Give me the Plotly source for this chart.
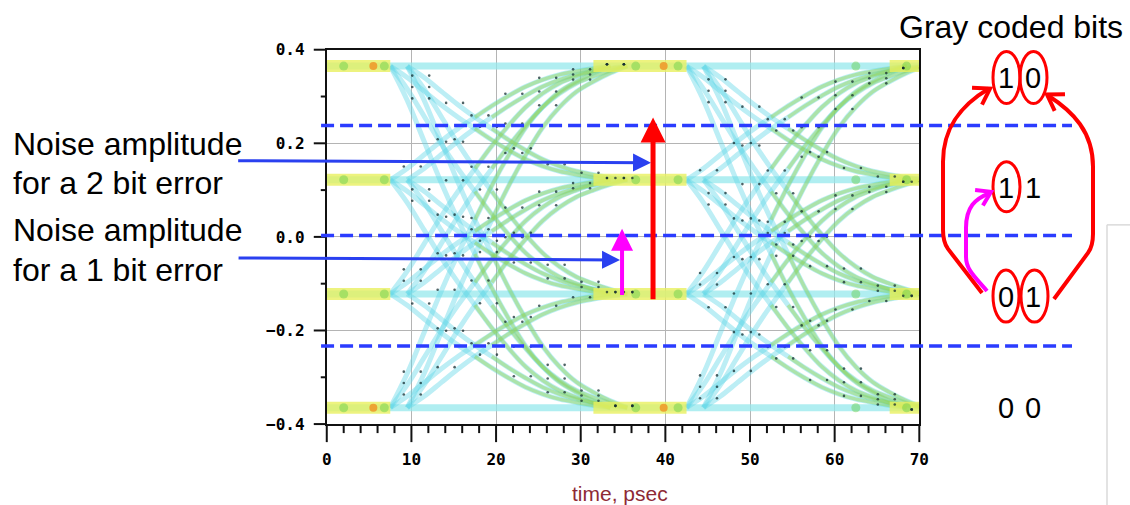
import math
import plotly.graph_objects as go

# Measured from earlier renders: window pixel = 0.987*page_x - 3, 0.961*page_y,
# and the page has the browser's 8px body margin. Positions below are given in
# target-picture pixels and converted back through that mapping.
SX, SY, BX, BY = 0.987, 0.961, -3.0, 0.0
MARGIN = 8
FW, FH = 1145, 520

# ---------------- data ----------------
levels = [0.365, 0.122, -0.122, -0.365]          # PAM4 signal levels (V)
ui_psec = 35.0                                    # unit interval
edge_start = [7.5, 9.5]                           # transition start times in first UI (psec)
resp_dt = [0, 2, 4, 6, 8, 10, 12, 14, 16, 18, 20, 22, 24, 26]            # psec after edge
resp_frac = [0, 0.10, 0.22, 0.34, 0.45, 0.55, 0.65, 0.74, 0.82, 0.88, 0.925, 0.955, 0.98, 1.0]
x_range = [0, 70]
y_range = [-0.4, 0.4]
hot_t = [5.5, 39.8]                               # orange hot spots on outer levels
green_t = [2.0, 6.8, 36.5, 41.5, 62.5, 68.5]      # denser green spots on levels
thresholds = [0.238, 0.003, -0.233]               # decision thresholds (dashed)
gray_codes = ["10", "11", "01", "00"]

# ---------------- helpers (target pixel -> paper) ----------------
def fig_x(x):
    return (x - BX) / SX - MARGIN

def fig_y(y):
    return (y - BY) / SY - MARGIN

def px(x):
    return fig_x(x) / FW

def py(y):
    return 1 - fig_y(y) / FH

X0, X1 = 326.7, 919.3
Y_TOP, Y_BOT = 48.3, 421.7

def xdata_to_px(v):
    return X0 + (v - x_range[0]) / (x_range[1] - x_range[0]) * (X1 - X0)

def ydata_to_px(v):
    return Y_BOT - (v - y_range[0]) / (y_range[1] - y_range[0]) * (Y_BOT - Y_TOP)

fig = go.Figure()

# flat "stay" traces at each level
fx, fy = [], []
for lv in levels:
    fx += [x_range[0], x_range[1], None]
    fy += [lv, lv, None]
fig.add_trace(go.Scatter(x=fx, y=fy, mode="lines",
                         line=dict(color="rgba(150,232,236,0.75)", width=7),
                         hoverinfo="skip", showlegend=False))

# transitions
tx, ty, lx, ly, sx, sy = [], [], [], [], [], []
for k in range(2):
    for t0 in edge_start:
        for a in levels:
            for b in levels:
                if a == b:
                    continue
                xs = [t0 + k * ui_psec + d for d in resp_dt]
                ys = [a + (b - a) * f for f in resp_frac]
                tx += xs + [None]
                ty += ys + [None]
                late = [i for i, d in enumerate(resp_dt) if d >= 10]
                lx += [xs[i] for i in late] + [None]
                ly += [ys[i] for i in late] + [None]
                for i in range(1, len(xs), 2):
                    sx.append(xs[i] + (0.6 if (a > b) else -0.4))
                    sy.append(ys[i] + (0.004 if k == 0 else -0.004))

fig.add_trace(go.Scatter(x=tx, y=ty, mode="lines", line_shape="spline",
                         line=dict(color="rgba(95,215,230,0.42)", width=5),
                         hoverinfo="skip", showlegend=False))
fig.add_trace(go.Scatter(x=lx, y=ly, mode="lines", line_shape="spline",
                         line=dict(color="rgba(150,212,80,0.45)", width=3.5),
                         hoverinfo="skip", showlegend=False))

# settled windows (dense yellow)
settle_dt = resp_dt[resp_frac.index(0.955)]
windows = [(x_range[0], min(edge_start)),
           (max(edge_start) + settle_dt, min(edge_start) + ui_psec),
           (max(edge_start) + settle_dt + ui_psec, x_range[1])]
wx, wy = [], []
for lv in levels:
    for (w0, w1) in windows:
        wx += [w0, w1, None]
        wy += [lv, lv, None]
fig.add_trace(go.Scatter(x=wx, y=wy, mode="lines",
                         line=dict(color="rgba(232,240,95,0.8)", width=12),
                         hoverinfo="skip", showlegend=False))

gx = [t for lv in levels for t in green_t]
gy = [lv for lv in levels for t in green_t]
fig.add_trace(go.Scatter(x=gx, y=gy, mode="markers",
                         marker=dict(color="rgba(100,205,70,0.45)", size=9, symbol="circle"),
                         hoverinfo="skip", showlegend=False))
hx = [t for lv in (levels[0], levels[-1]) for t in hot_t]
hy = [lv for lv in (levels[0], levels[-1]) for t in hot_t]
fig.add_trace(go.Scatter(x=hx, y=hy, mode="markers",
                         marker=dict(color="rgba(240,150,40,0.85)", size=8),
                         hoverinfo="skip", showlegend=False))

# speckles
fig.add_trace(go.Scatter(x=sx, y=sy, mode="markers",
                         marker=dict(color="rgba(20,45,50,0.75)", size=2.6),
                         hoverinfo="skip", showlegend=False))

shapes = []
annotations = []

# axis tick marks (outside), major + minor
TICK_C = "#111"
for i in range(0, 36):
    xv = x_range[0] + 2 * i
    major = (i % 5 == 0)
    xp = xdata_to_px(xv)
    shapes.append(dict(type="line", xref="paper", yref="paper", x0=px(xp), x1=px(xp),
                       y0=py(Y_BOT), y1=py(Y_BOT + (18 if major else 9)),
                       line=dict(color=TICK_C, width=2)))
for i in range(0, 9):
    yv = y_range[0] + 0.1 * i
    major = (i % 2 == 0)
    yp = ydata_to_px(yv)
    shapes.append(dict(type="line", xref="paper", yref="paper", y0=py(yp), y1=py(yp),
                       x0=px(X0), x1=px(X0 - (13 if major else 6)),
                       line=dict(color=TICK_C, width=2)))

# dashed decision thresholds
for th in thresholds:
    shapes.append(dict(type="line", xref="paper", yref="y",
                       x0=px(321), x1=px(1072), y0=th, y1=th,
                       line=dict(color="#2b3cff", width=3.5, dash="13px,6px"), layer="above"))

# faint box on the right
shapes.append(dict(type="line", xref="paper", yref="paper", x0=px(1107), x1=px(1107),
                   y0=py(223), y1=py(505), line=dict(color="#dadada", width=1.5)))
shapes.append(dict(type="line", xref="paper", yref="paper", x0=px(1107), x1=px(1130),
                   y0=py(223), y1=py(223), line=dict(color="#dadada", width=1.5)))

# left texts
for txt, yc in [("Noise amplitude", 142), ("for a 2 bit error", 181),
                ("Noise amplitude", 228), ("for a 1 bit error", 268)]:
    annotations.append(dict(text=txt, xref="paper", yref="paper", x=px(11), y=py(yc),
                            xanchor="left", yanchor="middle", showarrow=False,
                            font=dict(family="Liberation Sans, Arial", size=32, color="black")))

def arrow(head, tail, width, size, color):
    return dict(text="", xref="paper", yref="paper", x=px(head[0]), y=py(head[1]),
                ax=fig_x(tail[0]) - fig_x(head[0]), ay=fig_y(tail[1]) - fig_y(head[1]),
                showarrow=True, arrowhead=2, arrowsize=size, arrowwidth=width,
                arrowcolor=color)

# blue arrows
annotations.append(arrow((651, 161), (242, 159), 3, 1.2, "#2a40f0"))
annotations.append(arrow((620, 258), (242, 256), 3, 1.2, "#2a40f0"))
# red and magenta vertical arrows
annotations.append(arrow((653, 116), (653, 292), 5, 1.0, "#ff0000"))
annotations.append(arrow((622, 227), (622, 292), 4, 1.1, "#ff00ff"))

# Gray coded bits title
annotations.append(dict(text="Gray coded bits", xref="paper", yref="paper", x=px(1011), y=py(26),
                        xanchor="center", yanchor="middle", showarrow=False,
                        font=dict(family="Liberation Sans, Arial", size=32, color="black")))

# bit labels
code_y = [76, 185, 294, 405]
for code, yc in zip(gray_codes, code_y):
    for j, ch in enumerate(code):
        annotations.append(dict(text=ch, xref="paper", yref="paper", x=px(1006 + 27 * j), y=py(yc + 1),
                                xanchor="center", yanchor="middle", showarrow=False,
                                font=dict(family="Liberation Sans, Arial", size=29, color="black")))

# ellipses around flipped bits
for (x0, x1, y0, y1) in [(993, 1020, 50, 102), (1020, 1047, 50, 102),
                         (993, 1020, 160, 210),
                         (993, 1019, 268, 320), (1021, 1048, 268, 320)]:
    shapes.append(dict(type="circle", xref="paper", yref="paper",
                       x0=px(x0), x1=px(x1), y0=py(y1), y1=py(y0),
                       line=dict(color="#ff0000", width=3)))

def path(cmds):
    out = []
    for c, pts in cmds:
        out.append(c + " " + " ".join(f"{px(a):.5f},{py(b):.5f}" for a, b in pts))
    return " ".join(out)

def chevron(tip, back, length=18, ang=33):
    dx, dy = back[0] - tip[0], back[1] - tip[1]
    n = math.hypot(dx, dy)
    dx, dy = dx / n, dy / n
    pts = []
    for s in (-1, 1):
        r = math.radians(ang * s)
        wx_ = dx * math.cos(r) - dy * math.sin(r)
        wy_ = dx * math.sin(r) + dy * math.cos(r)
        pts.append((tip[0] + wx_ * length, tip[1] + wy_ * length))
    return path([("M", [pts[0]]), ("L", [tip]), ("L", [pts[1]])])

# left red curve
shapes.append(dict(type="path", xref="paper", yref="paper", layer="above",
                   path=path([("M", [(982, 291)]), ("L", [(948, 247)]),
                              ("Q", [(943, 240), (943, 228)]), ("L", [(943, 160)]),
                              ("C", [(943, 125), (962, 103), (989, 87)])]),
                   line=dict(color="#ff0000", width=4)))
shapes.append(dict(type="path", xref="paper", yref="paper", layer="above",
                   path=chevron((990, 87), (968, 100)), line=dict(color="#ff0000", width=4)))
# right red curve
shapes.append(dict(type="path", xref="paper", yref="paper", layer="above",
                   path=path([("M", [(1054, 297)]), ("L", [(1088, 251)]),
                              ("Q", [(1093, 244), (1093, 232)]), ("L", [(1093, 165)]),
                              ("C", [(1093, 130), (1073, 110), (1048, 94)])]),
                   line=dict(color="#ff0000", width=4)))
shapes.append(dict(type="path", xref="paper", yref="paper", layer="above",
                   path=chevron((1047, 93), (1068, 106)), line=dict(color="#ff0000", width=4)))
# magenta curve
shapes.append(dict(type="path", xref="paper", yref="paper", layer="above",
                   path=path([("M", [(987, 289)]), ("C", [(976, 276), (966, 268), (966, 255)]),
                              ("L", [(966, 226)]), ("C", [(966, 205), (975, 197), (990, 191)])]),
                   line=dict(color="#ff00ff", width=4)))
shapes.append(dict(type="path", xref="paper", yref="paper", layer="above",
                   path=chevron((991, 190), (975, 198), length=16), line=dict(color="#ff00ff", width=4)))

# x-axis title
annotations.append(dict(text="time, psec", xref="paper", yref="paper", x=px(620), y=py(491),
                        xanchor="center", yanchor="middle", showarrow=False,
                        font=dict(family="Liberation Sans, Arial", size=21, color="#8e2a35")))

tick_font = dict(family="DejaVu Sans Mono", size=16, color="#000", weight="bold")
fig.update_layout(
    width=FW, height=FH, margin=dict(l=0, r=0, t=0, b=0),
    paper_bgcolor="white", plot_bgcolor="rgba(0,0,0,0)",
    showlegend=False, shapes=shapes, annotations=annotations,
    xaxis=dict(domain=[px(X0), px(X1)], range=x_range, tickmode="linear", tick0=0, dtick=10,
               ticks="", ticklabelstandoff=20,
               showline=True, linecolor="#111", linewidth=2, mirror=True,
               showgrid=True, gridcolor="#b4b4b4", gridwidth=1, zeroline=False,
               tickfont=tick_font),
    yaxis=dict(domain=[py(Y_BOT), py(Y_TOP)], range=y_range, tickmode="linear",
               tick0=0, dtick=0.2, tickformat=".1f",
               ticks="", ticklabelstandoff=17,
               showline=True, linecolor="#111", linewidth=2, mirror=True,
               showgrid=True, gridcolor="#b4b4b4", gridwidth=1, zeroline=False,
               tickfont=tick_font),
)

fig.write_html("out.html")
